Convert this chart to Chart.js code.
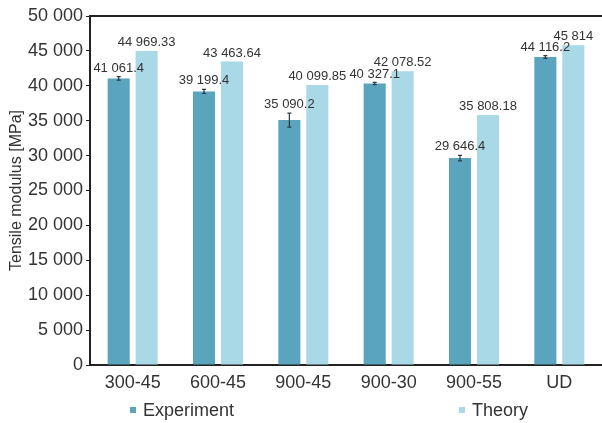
<!DOCTYPE html>
<html>
<head>
<meta charset="utf-8">
<script src="https://cdn.jsdelivr.net/npm/chart.js@4"></script>
<style>
  html, body { margin: 0; padding: 0; background: #fff; }
  #wrap { width: 602px; height: 423px; }
</style>
</head>
<body>
<div id="wrap"><canvas id="c" width="602" height="423"></canvas></div>
<script>
// Tensile modulus per laminate layup
const categories = ['300-45', '600-45', '900-45', '900-30', '900-55', 'UD'];
const experiment = [41061.4, 39199.4, 35090.2, 40327.1, 29646.4, 44116.2];
const experimentErr = [250, 300, 1000, 150, 400, 200];
const theory = [44969.33, 43463.64, 40099.85, 42078.52, 35808.18, 45814];
const yTicks = [0, 5000, 10000, 15000, 20000, 25000, 30000, 35000, 40000, 45000, 50000];

const FONT = '"Liberation Sans", Arial, Helvetica, sans-serif';
const TEXT = '#333333';

// thousands grouped with a plain space, decimals kept as given
function fmt(v) {
  const parts = String(v).split('.');
  parts[0] = parts[0].replace(/\B(?=(\d{3})+(?!\d))/g, ' ');
  return parts.join('.');
}

// error bars on the experiment series, value labels above every bar, top frame line
const annotate = {
  id: 'annotate',
  afterDatasetsDraw(chart) {
    const ctx = chart.ctx;
    const y = chart.scales.y;
    const area = chart.chartArea;
    ctx.save();
    // top frame line
    ctx.strokeStyle = '#222';
    ctx.lineWidth = 2;
    ctx.beginPath();
    ctx.moveTo(area.left - 1, area.top);
    ctx.lineTo(chart.width, area.top);
    ctx.stroke();

    ctx.font = '13px ' + FONT;
    ctx.fillStyle = TEXT;
    ctx.textAlign = 'center';
    ctx.textBaseline = 'bottom';
    chart.data.datasets.forEach((ds, di) => {
      const meta = chart.getDatasetMeta(di);
      meta.data.forEach((bar, i) => {
        const v = ds.data[i];
        let labelY = bar.y - 2;
        if (ds.errors) {
          const e = ds.errors[i];
          const yTop = y.getPixelForValue(v + e);
          const yBot = y.getPixelForValue(v - e);
          ctx.strokeStyle = '#2a3a40';
          ctx.lineWidth = 1.2;
          ctx.beginPath();
          ctx.moveTo(bar.x, yTop); ctx.lineTo(bar.x, yBot);
          ctx.moveTo(bar.x - 2, yTop); ctx.lineTo(bar.x + 2, yTop);
          ctx.moveTo(bar.x - 2, yBot); ctx.lineTo(bar.x + 2, yBot);
          ctx.stroke();
          labelY = yTop - 2;
        }
        ctx.fillText(fmt(v), bar.x, labelY);
      });
    });
    ctx.restore();
  }
};

// legend row under the axis
const legendRow = {
  id: 'legendRow',
  afterDraw(chart) {
    const ctx = chart.ctx;
    const xs = [130, 459];
    const yc = 410;
    ctx.save();
    ctx.font = '18px ' + FONT;
    ctx.textAlign = 'left';
    ctx.textBaseline = 'middle';
    chart.data.datasets.forEach((ds, i) => {
      ctx.fillStyle = ds.backgroundColor;
      ctx.fillRect(xs[i], yc - 3, 6, 6);
      ctx.fillStyle = TEXT;
      ctx.fillText(ds.label, xs[i] + 13, yc + 1);
    });
    ctx.restore();
  }
};

new Chart(document.getElementById('c'), {
  type: 'bar',
  data: {
    labels: categories,
    datasets: [
      { label: 'Experiment', data: experiment, errors: experimentErr,
        backgroundColor: '#5ba4be', borderWidth: 0 },
      { label: 'Theory', data: theory,
        backgroundColor: '#a9d8e6', borderWidth: 0 }
    ]
  },
  options: {
    responsive: false,
    animation: false,
    devicePixelRatio: 1,
    layout: { padding: { top: 16, right: 0, bottom: 28, left: 0 } },
    datasets: { bar: { categoryPercentage: 0.655, barPercentage: 0.79 } },
    plugins: {
      legend: { display: false },
      tooltip: { enabled: false }
    },
    scales: {
      x: {
        grid: { display: false, drawTicks: false },
        border: { color: '#222', width: 2 },
        ticks: { color: TEXT, font: { family: FONT, size: 18 }, padding: 7, maxRotation: 0 },
        afterFit(s) { s.height = 30; }
      },
      y: {
        min: 0, max: 50000,
        afterBuildTicks(s) { s.ticks = yTicks.map(v => ({ value: v })); },
        grid: { drawOnChartArea: false, tickLength: 4, color: '#222' },
        border: { color: '#222', width: 2 },
        ticks: { color: TEXT, font: { family: FONT, size: 18 }, padding: 3,
                 callback: v => fmt(v) },
        title: { display: true, text: 'Tensile modulus [MPa]', color: TEXT,
                 font: { family: FONT, size: 16 }, padding: { top: 7, bottom: 0 } },
        afterFit(s) { s.width = 90; }
      }
    }
  },
  plugins: [annotate, legendRow]
});
</script>
</body>
</html>
